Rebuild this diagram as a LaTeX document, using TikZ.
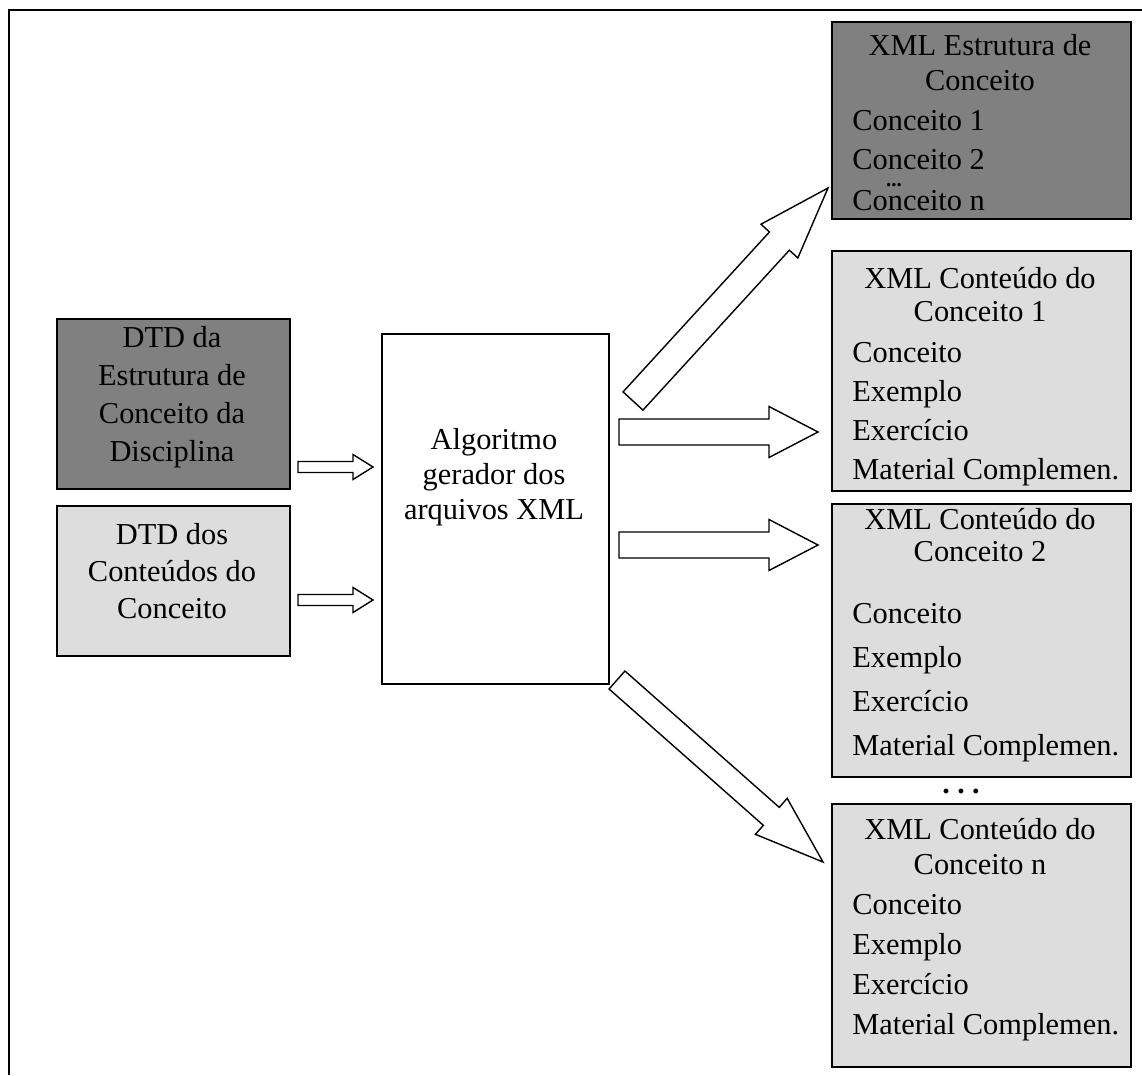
\documentclass[tikz,border=0pt]{standalone}
\usepackage{fontspec}
\setmainfont{Liberation Serif}
\usetikzlibrary{calc}

\definecolor{boxdark}{HTML}{808080}
\definecolor{boxlight}{HTML}{DDDDDD}

\tikzset{
  box/.style={draw,line width=0.9pt,inner sep=0pt,anchor=north west},
  darkbox/.style={box,fill=boxdark},
  lightbox/.style={box,fill=boxlight},
  txt/.style={inner sep=0pt,text height=1em,text depth=0pt,font=\fontsize{17.3}{20}\selectfont},
  item/.style={txt,anchor=west},
  dots/.style={inner sep=0pt,font=\bfseries\fontsize{#1}{#1}\selectfont},
  blockarr/.style={draw,line width=0.8pt,fill=white,line join=miter},
}

\newcommand{\blockarrow}[5]{%
  \coordinate (ah) at ($(#2)!#5!(#1)$);
  \draw[blockarr] ($(#1)!#3!90:(#2)$) -- ($(ah)!#3!90:(#2)$) -- ($(ah)!#4!90:(#2)$) -- (#2)
    -- ($(ah)!#4!-90:(#2)$) -- ($(ah)!#3!-90:(#2)$) -- ($(#1)!#3!-90:(#2)$) -- cycle;}

\begin{document}
\begin{tikzpicture}[x=0.02cm,y=-0.02cm]
  \useasboundingbox (0,0) rectangle (1142,1075);
  \draw[line width=1.1pt] (9,1075) -- (9,10) -- (1142,10);

  \node[darkbox,minimum width=4.66cm,minimum height=3.4cm] (dtdest) at (56,318) {};
  \node[lightbox,minimum width=4.66cm,minimum height=3.0cm] (dtdcont) at (56,505) {};
  \node[box,fill=white,minimum width=4.54cm,minimum height=7.0cm] (algo) at (381,333) {};
  \node[darkbox,minimum width=5.98cm,minimum height=3.94cm] (xmlest) at (831,21) {};

  \foreach \t [count=\i] in {DTD da,Estrutura de,Conceito da,Disciplina}
    \node[txt] (dtdest-\i) at (172,301+38*\i) {\t};
  \foreach \t [count=\i] in {DTD dos,Conteúdos do,Conceito}
    \node[txt] (dtdcont-\i) at (172,499+37*\i) {\t};
  \foreach \t [count=\i] in {Algoritmo,gerador dos,arquivos XML}
    \node[txt] (algo-\i) at (494,406+35*\i) {\t};

  \node[txt] (xmlest-t1) at (980,47) {XML Estrutura de};
  \node[txt] (xmlest-t2) at (980,82) {Conceito};
  \foreach \t/\y [count=\i] in {Conceito 1/122,Conceito 2/161,Conceito n/202}
    \node[item] (xmlest-\i) at (852,\y) {\t};
  \node[dots=12] (xmlest-dots) at (894,185) {...};

  \foreach \b/\k/\y/\h/\ta/\tb/\ia/\d in
      {xmlc1/1/250/4.8cm/280/313/354/39,xmlc2/2/503/5.46cm/521/553/615/44,xmlcn/n/803/5.26cm/831/866/906/40}{
    \node[lightbox,minimum width=5.98cm,minimum height=\h] (\b) at (831,\y) {};
    \node[txt] (\b-t1) at (980,\ta) {XML Conteúdo do};
    \node[txt] (\b-t2) at (980,\tb) {Conceito \k};
    \foreach \t [count=\i] in {Conceito,Exemplo,Exercício,Material Complemen.}
      \node[item] (\b-\i) at (852,\ia+\d*\i-\d) {\t};
  }
  \node[dots=17] (dotsmid) at (961,791) {.\ .\ .};

  \coordinate (s1a) at (298,467); \coordinate (s1b) at (373,467);
  \coordinate (s2a) at (298,600); \coordinate (s2b) at (373,600);
  \coordinate (ha) at (619,432); \coordinate (hb) at (818,432);
  \coordinate (ka) at (619,545); \coordinate (kb) at (818,545);
  \coordinate (ua) at (633,401); \coordinate (ub) at (828,188);
  \coordinate (da) at (617,680); \coordinate (db) at (823,862);

  \blockarrow{s1a}{s1b}{0.11cm}{0.25cm}{0.4cm}
  \blockarrow{s2a}{s2b}{0.11cm}{0.25cm}{0.4cm}
  \blockarrow{ha}{hb}{0.26cm}{0.51cm}{0.98cm}
  \blockarrow{ka}{kb}{0.26cm}{0.51cm}{0.98cm}
  \blockarrow{ua}{ub}{0.27cm}{0.5cm}{1.44cm}
  \blockarrow{da}{db}{0.24cm}{0.48cm}{1.38cm}
\end{tikzpicture}
\end{document}
